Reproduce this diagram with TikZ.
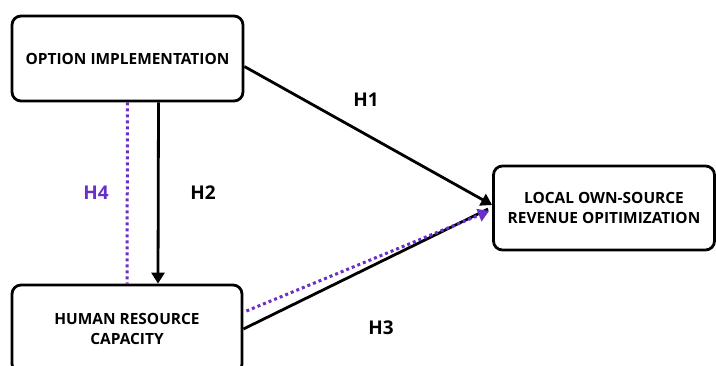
\documentclass[tikz,border=0pt]{standalone}
\usepackage{fontspec}
\setmainfont{Open Sans}
\usetikzlibrary{arrows.meta}
\definecolor{hpurple}{RGB}{104,48,200}
\tikzset{
  varbox/.style={draw, line width=2.8bp, rounded corners=9bp, align=center,
    font=\bfseries\fontsize{15.5}{20}\selectfont},
  hlabel/.style={font=\bfseries\fontsize{19}{19}\selectfont},
  solidarrow/.style={line width=2.8bp, -{Triangle[length=11bp,width=13bp]}},
  dotline/.style={hpurple, line width=3bp, dash pattern=on 3bp off 3bp}
}
\begin{document}
\begin{tikzpicture}[x=1bp, y=1bp]
    \clip (0,0) rectangle (716,365);
    \useasboundingbox (0,0) rectangle (716,365);
    % Option box
    \node[varbox, minimum width=231bp, minimum height=85bp] (opt) at (127.5,306.5) {OPTION IMPLEMENTATION};
    % Human resource box
    \node[varbox, minimum width=230bp, minimum height=88bp] (hrc) at (127,36) {HUMAN RESOURCE\\CAPACITY};
    % Revenue box
    \node[varbox, minimum width=221bp, minimum height=84bp] (rev) at (604,157) {LOCAL OWN-SOURCE\\REVENUE OPITIMIZATION};
    % H4 (dotted, no head)
    \draw[dotline] (opt.south) -- (hrc.north);
    % H2
    \draw[solidarrow] ([xshift=31bp]opt.south) -- ([xshift=31bp]hrc.north);
    % H1
    \draw[solidarrow] ([yshift=-8bp]opt.east) -- ([yshift=3bp]rev.west);
    % H3
    \draw[line width=2.8bp] (hrc.east) -- ([xshift=-4bp,yshift=-1bp]rev.west);
    \draw[dotline, -{Triangle[length=11bp,width=13bp]}] ([xshift=3bp,yshift=18bp]hrc.east) -- ([xshift=-3bp,yshift=-3bp]rev.west);
    % Labels
    \node[hlabel] (h1) at (366,265) {H1};
    \node[hlabel] (h2) at (203,172) {H2};
    \node[hlabel, text=hpurple] (h4) at (96,172) {H4};
    \node[hlabel] (h3) at (381,37) {H3};
\end{tikzpicture}
\end{document}
